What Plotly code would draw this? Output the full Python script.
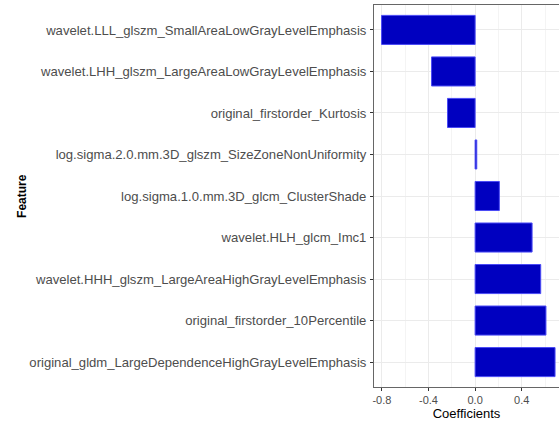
import plotly.graph_objects as go

# Feature names, listed top to bottom
features = [
    "wavelet.LLL_glszm_SmallAreaLowGrayLevelEmphasis",
    "wavelet.LHH_glszm_LargeAreaLowGrayLevelEmphasis",
    "original_firstorder_Kurtosis",
    "log.sigma.2.0.mm.3D_glszm_SizeZoneNonUniformity",
    "log.sigma.1.0.mm.3D_glcm_ClusterShade",
    "wavelet.HLH_glcm_Imc1",
    "wavelet.HHH_glszm_LargeAreaHighGrayLevelEmphasis",
    "original_firstorder_10Percentile",
    "original_gldm_LargeDependenceHighGrayLevelEmphasis",
]
coefficients = [-0.803, -0.374, -0.237, 0.014, 0.208, 0.489, 0.563, 0.608, 0.686]

x_ticks = [-0.8, -0.4, 0.0, 0.4]
x_tick_labels = ["-0.8", "-0.4", "0.0", "0.4"]

fig = go.Figure(
    go.Bar(
        x=coefficients,
        y=features,
        orientation="h",
        width=0.7,
        marker=dict(color="#0000C0", line=dict(color="#4A4AF5", width=1)),
    )
)

axis_font = dict(family="Liberation Sans, Arial, sans-serif", size=13.1, color="#4D4D4D")

fig.update_layout(
    width=559,
    height=421,
    margin=dict(l=374, r=0, t=5, b=34),
    paper_bgcolor="white",
    plot_bgcolor="white",
    showlegend=False,
    bargap=0.3,
    xaxis=dict(
        range=[-0.868, 0.72],
        tickvals=x_ticks,
        ticktext=x_tick_labels,
        tickfont=dict(family="Liberation Sans, Arial, sans-serif", size=11, color="#4D4D4D"),
        ticks="outside",
        ticklen=3,
        tickcolor="#333333",
        showgrid=True,
        gridcolor="#EBEBEB",
        gridwidth=1,
        minor=dict(tickvals=[-0.6, -0.2, 0.2, 0.6], showgrid=True, gridcolor="#F4F4F4", gridwidth=1),
        zeroline=False,
        showline=True,
        linecolor="#666666",
        linewidth=1,
        mirror=True,
        title=dict(
            text="Coefficients",
            font=dict(family="Liberation Sans, Arial, sans-serif", size=13, color="black"),
            standoff=4,
        ),
    ),
    yaxis=dict(
        type="category",
        categoryorder="array",
        categoryarray=features,
        range=[8.6, -0.6],
        tickfont=axis_font,
        ticks="outside",
        ticklen=3,
        tickcolor="#333333",
        ticklabelstandoff=1,
        showgrid=True,
        gridcolor="#EBEBEB",
        gridwidth=1,
        zeroline=False,
        showline=True,
        linecolor="#666666",
        linewidth=1,
        mirror=True,
    ),
)

fig.add_annotation(
    text="<b>Feature</b>",
    xref="paper",
    yref="paper",
    x=-1.903,
    y=0.5,
    xanchor="center",
    yanchor="middle",
    textangle=-90,
    showarrow=False,
    font=dict(family="Liberation Sans, Arial, sans-serif", size=12, color="black"),
)

fig.write_html("out.html")
